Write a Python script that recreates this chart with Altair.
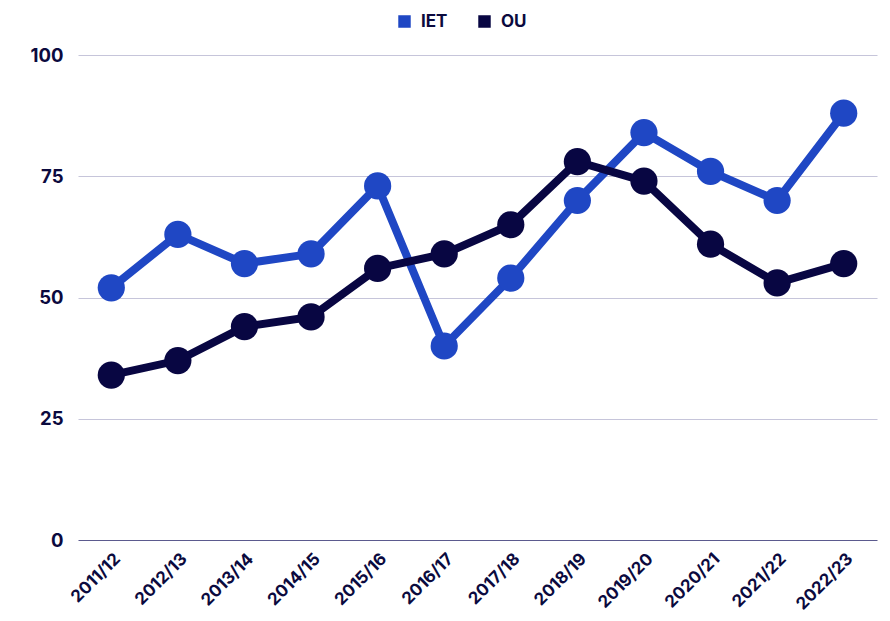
import altair as alt
import pandas as pd

years = ["2011/12", "2012/13", "2013/14", "2014/15", "2015/16", "2016/17",
         "2017/18", "2018/19", "2019/20", "2020/21", "2021/22", "2022/23"]
iet = [52, 63, 57, 59, 73, 40, 54, 70, 84, 76, 70, 88]
ou = [34, 37, 44, 46, 56, 59, 65, 78, 74, 61, 53, 57]
series = ["IET", "OU"]
colors = ["#1f47c4", "#080642"]

rows = []
for name, vals in zip(series, [iet, ou]):
    for y, v in zip(years, vals):
        rows.append({"year": y, "value": v, "series": name})
df = pd.DataFrame(rows)

FONT = "Inter"
TXT = "#0b0a3e"

chart = alt.Chart(df).mark_line(
    strokeWidth=8,
    point=alt.OverlayMarkDef(size=740, filled=True, opacity=1),
).encode(
    x=alt.X("year:N", sort=years, title=None,
            scale=alt.Scale(paddingOuter=0.5, paddingInner=0),
            axis=alt.Axis(labelAngle=-45, labelAlign="right", labelBaseline="middle",
                          labelPadding=16, labelOffset=6, ticks=False, domain=False,
                          labelFontSize=17, labelFontWeight="bold", labelColor=TXT,
                          labelFont=FONT)),
    y=alt.Y("value:Q", title=None,
            scale=alt.Scale(domain=[0, 100], nice=False),
            axis=alt.Axis(values=[0, 25, 50, 75, 100], ticks=False, domain=False,
                          labelPadding=15, labelFontSize=18.5, labelFontWeight="bold",
                          labelColor=TXT, labelFont=FONT,
                          gridColor=alt.ExprRef("datum.value == 0 ? '#5b5a8e' : '#c6c5da'"),
                          gridWidth=1.2)),
    color=alt.Color("series:N", scale=alt.Scale(domain=series, range=colors),
                    legend=alt.Legend(title=None, orient="none", legendX=318, legendY=-42,
                                      direction="horizontal", symbolType="square",
                                      symbolSize=120, labelFontSize=17,
                                      labelFontWeight="bold", labelColor=TXT,
                                      labelFont=FONT, columnPadding=28, labelOffset=8)),
).properties(
    width=799, height=485,
    autosize=alt.AutoSizeParams(type="none"),
    padding={"left": 70, "top": 47, "right": 5, "bottom": 73},
).configure_view(stroke=None)

chart.save("out.html", embed_options={"renderer": "svg", "actions": False})
